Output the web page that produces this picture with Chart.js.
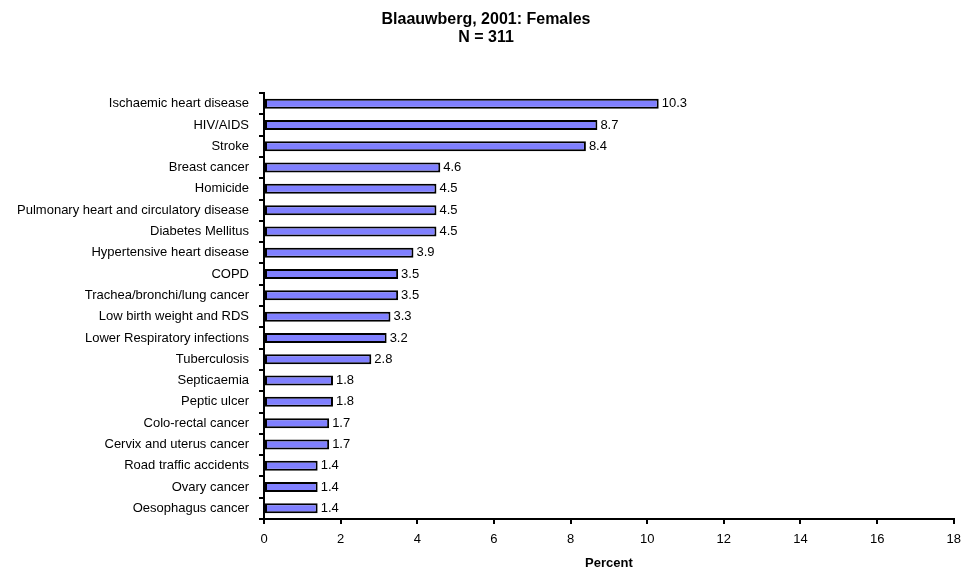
<!DOCTYPE html>
<html>
<head>
<meta charset="utf-8">
<script src="https://cdn.jsdelivr.net/npm/chart.js@4/dist/chart.umd.min.js"></script>
<style>
  html, body { margin: 0; padding: 0; background: #fff; }
  #wrap { width: 969px; height: 570px; }
</style>
</head>
<body>
<div id="wrap"><canvas id="chart" width="969" height="570"></canvas></div>
<script>
// Data
const causes = [
  'Ischaemic heart disease', 'HIV/AIDS', 'Stroke', 'Breast cancer', 'Homicide',
  'Pulmonary heart and circulatory disease', 'Diabetes Mellitus', 'Hypertensive heart disease',
  'COPD', 'Trachea/bronchi/lung cancer', 'Low birth weight and RDS',
  'Lower Respiratory infections', 'Tuberculosis', 'Septicaemia', 'Peptic ulcer',
  'Colo-rectal cancer', 'Cervix and uterus cancer', 'Road traffic accidents',
  'Ovary cancer', 'Oesophagus cancer'
];
const percents = [10.3, 8.7, 8.4, 4.6, 4.5, 4.5, 4.5, 3.9, 3.5, 3.5, 3.3, 3.2, 2.8, 1.8, 1.8, 1.7, 1.7, 1.4, 1.4, 1.4];
const titleLines = ['Blaauwberg, 2001: Females', 'N = 311'];
const xMin = 0, xMax = 18, xStep = 2;

const FONT = 'Liberation Sans, Arial, sans-serif';

// value labels at bar ends + title text
const labelsPlugin = {
  id: 'valueLabels',
  afterDatasetsDraw(chart) {
    const ctx = chart.ctx;
    const meta = chart.getDatasetMeta(0);
    ctx.save();
    ctx.font = '13px ' + FONT;
    ctx.fillStyle = '#000';
    ctx.textAlign = 'left';
    ctx.textBaseline = 'middle';
    meta.data.forEach((bar, i) => {
      ctx.fillText(percents[i].toFixed(1), bar.x + 3, bar.y);
    });
    ctx.restore();
  },
  afterDraw(chart) {
    const ctx = chart.ctx;
    ctx.save();
    ctx.font = 'bold 16px ' + FONT;
    ctx.fillStyle = '#000';
    ctx.textAlign = 'center';
    ctx.textBaseline = 'alphabetic';
    ctx.fillText(titleLines[0], 486, 24);
    ctx.fillText(titleLines[1], 486, 42);
    ctx.restore();
  }
};

new Chart(document.getElementById('chart'), {
  type: 'bar',
  data: {
    labels: causes,
    datasets: [{
      data: percents,
      backgroundColor: '#8080ff',
      borderColor: '#000',
      borderWidth: 2,
      borderSkipped: false,
      barPercentage: 0.47,
      categoryPercentage: 1
    }]
  },
  options: {
    indexAxis: 'y',
    responsive: false,
    animation: false,
    layout: { padding: { top: 93, right: 14, left: 0, bottom: 0 } },
    plugins: {
      legend: { display: false },
      tooltip: { enabled: false },
      title: { display: false }
    },
    scales: {
      x: {
        min: xMin, max: xMax,
        afterFit(scale) { scale.height = 51; },
        ticks: { stepSize: xStep, color: '#000', font: { family: FONT, size: 13 }, padding: 8, maxRotation: 0 },
        grid: { drawOnChartArea: false, drawTicks: true, tickLength: 5, color: '#000', lineWidth: 2 },
        border: { display: true, color: '#000', width: 2 },
        title: { display: true, text: 'Percent', color: '#000', font: { family: FONT, size: 13, weight: 'bold' }, padding: { top: 0, bottom: -1 } }
      },
      y: {
        afterFit(scale) { scale.width = 264; },
        ticks: { color: '#000', font: { family: FONT, size: 13 }, padding: 10, autoSkip: false },
        grid: { offset: true, drawOnChartArea: false, drawTicks: true, tickLength: 5, color: '#000', lineWidth: 2 },
        border: { display: true, color: '#000', width: 2 }
      }
    }
  },
  plugins: [labelsPlugin]
});
</script>
</body>
</html>
